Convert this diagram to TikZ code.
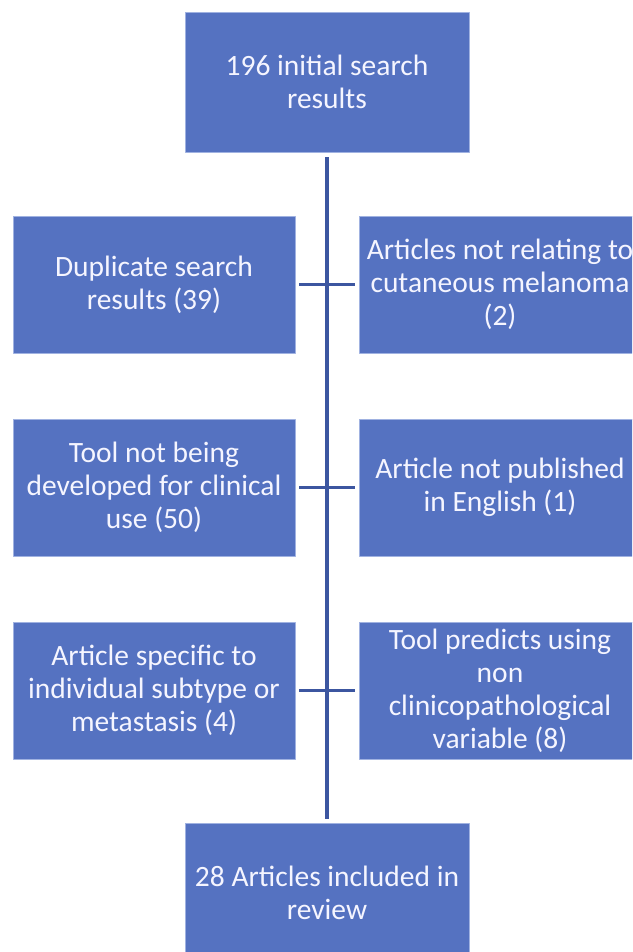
\documentclass[tikz,border=0pt]{standalone}
\usepackage{fontspec}
\setmainfont{Carlito}
\definecolor{boxblue}{RGB}{85,114,193}
\definecolor{boxedge}{RGB}{160,178,225}
\definecolor{linkblue}{RGB}{60,86,160}
\begin{document}
	\begin{tikzpicture}[x=1pt, y=-1pt, line join=round,
		box/.style={draw=boxedge, line width=0.6pt, fill=boxblue, text=white!96!blue,
			inner sep=0pt, align=center, font=\fontsize{29.5}{33}\selectfont},
		mainbox/.style={box, minimum width=284pt, minimum height=140pt},
		sidebox/.style={box, minimum width=282pt, minimum height=137pt},
		link/.style={draw=linkblue, line width=3.6pt}]
		\useasboundingbox (0,0) rectangle (632,952);
		\clip (0,0) rectangle (632,952);
		\path 	(327,82) coordinate (T)
		(327,893) coordinate (R)
		(154,284.5) coordinate (L1)
		(500,284.5) coordinate (R1)
		(154,487.5) coordinate (L2)
		(500,487.5) coordinate (R2)
		(154,690.5) coordinate (L3)
		(500,690.5) coordinate (R3);
		% boxes
		\node[mainbox] (initial) at (T) {196 initial search\\results};
		\node[mainbox] (included) at (R) {28 Articles included in\\review};
		\node[sidebox] (dup) at (L1) {Duplicate search\\results (39)};
		\node[sidebox] (melan) at (R1) {Articles not relating to\\cutaneous melanoma\\(2)};
		\node[sidebox] (clinical) at (L2) {Tool not being\\developed for clinical\\use (50)};
		\node[sidebox] (english) at (R2) {Article not published\\in English (1)};
		\node[sidebox] (subtype) at (L3) {Article specific to\\individual subtype or\\metastasis (4)};
		\node[sidebox] (variable) at (R3) {Tool predicts using\\non\\clinicopathological\\variable (8)};
		% connectors
		\draw[link, shorten <=5pt, shorten >=4pt] (initial) -- (included);
		\foreach \a/\b in {dup/melan,clinical/english,subtype/variable}
		\draw[link, shorten <=4pt, shorten >=4pt] (\a) -- (\b);
	\end{tikzpicture}
\end{document}
